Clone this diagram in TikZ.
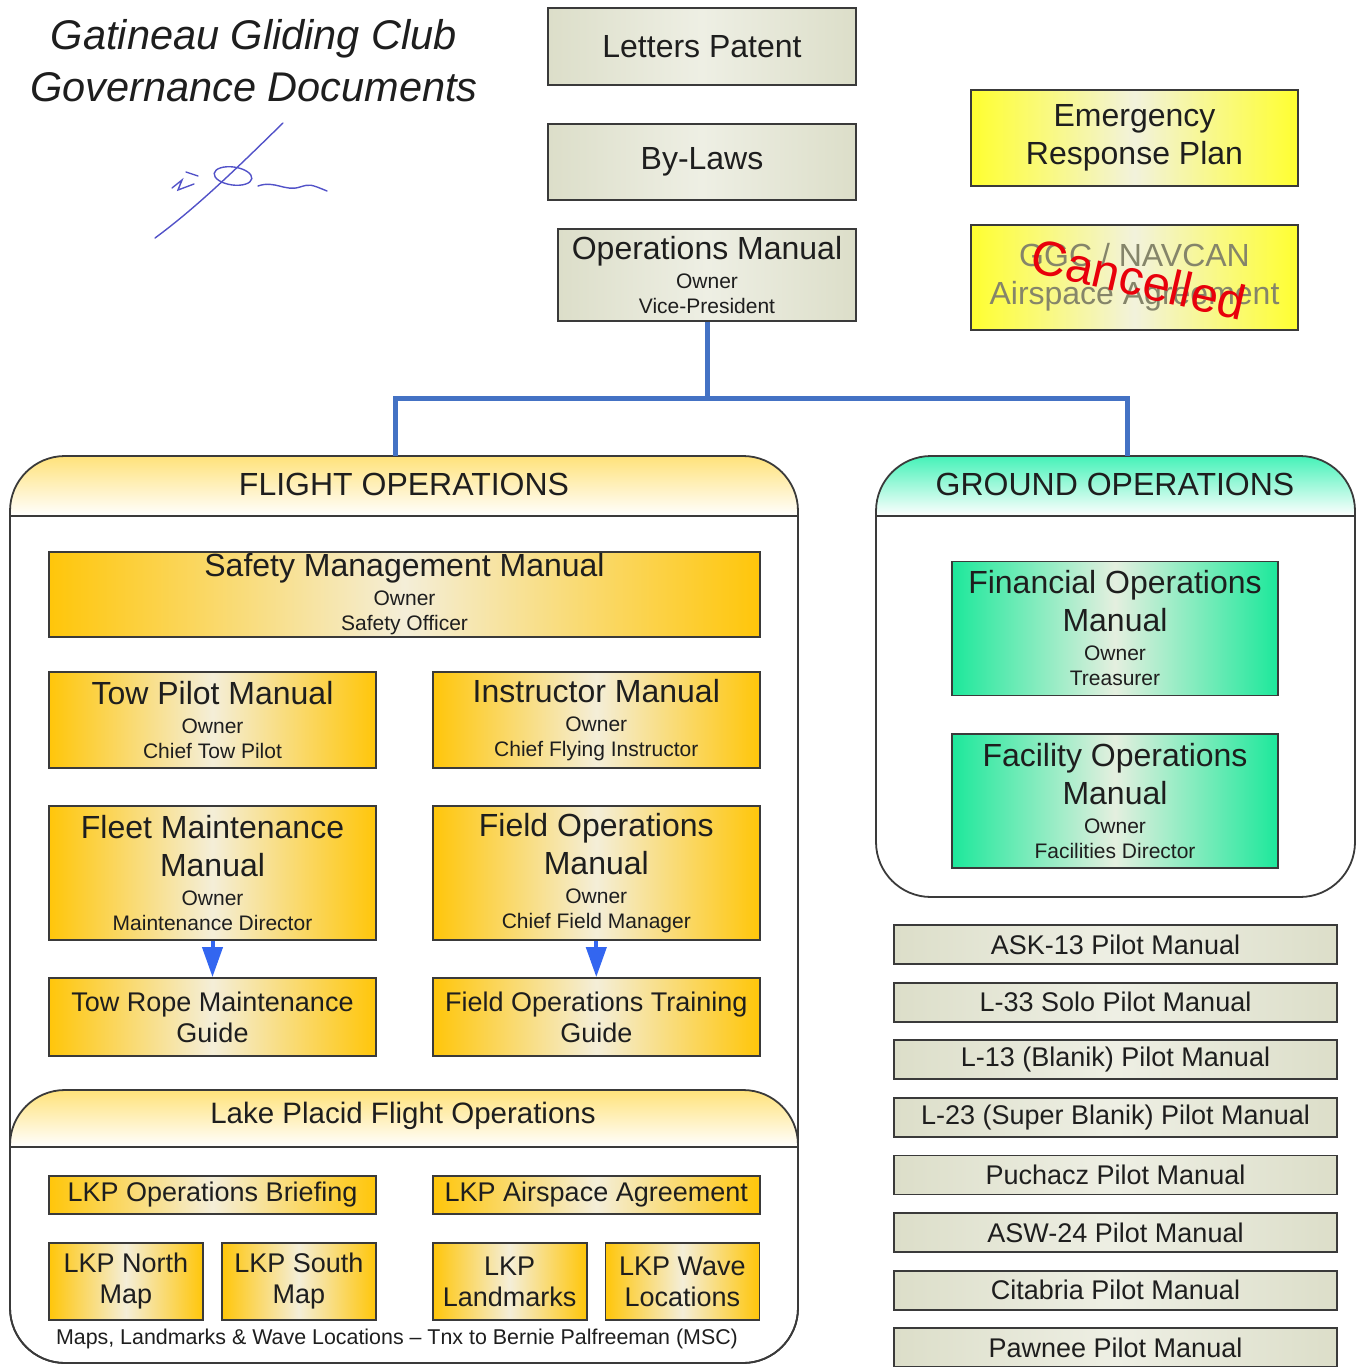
\documentclass[tikz,border=0pt]{standalone}
\usepackage{fontspec}
\setmainfont{Liberation Sans}
\usepackage{tikz}
\usetikzlibrary{arrows.meta,positioning}
\definecolor{edge}{HTML}{3A3A3A}
\definecolor{ink}{HTML}{1E1E1E}
\definecolor{grayside}{HTML}{DCDEC9}
\definecolor{graymid}{HTML}{EEEFE4}
\definecolor{goldside}{HTML}{FFC60A}
\definecolor{goldmid}{HTML}{F4EED8}
\definecolor{greenside}{HTML}{1DE89B}
\definecolor{greenmid}{HTML}{E4EFDF}
\definecolor{yellowside}{HTML}{FFFF30}
\definecolor{yellowmid}{HTML}{F2F2DC}
\definecolor{goldhead}{HTML}{FFE27A}
\definecolor{greenhead}{HTML}{45F2B8}
\definecolor{feedblue}{HTML}{4472C4}
\definecolor{arrowblue}{HTML}{3366F0}
\definecolor{voidgray}{HTML}{85856A}
\definecolor{voidred}{HTML}{E8000B}
\definecolor{sigblue}{HTML}{5252C8}
\newcommand\docfont{\fontsize{32}{38}\selectfont}
\newcommand\ownerfont{\fontsize{21}{24}\selectfont}
\newcommand\guidefont{\fontsize{27}{31}\selectfont}
\newcommand\headfont{\fontsize{32}{36}\selectfont}
\newcommand\lakefont{\fontsize{29.5}{34}\selectfont}
\newcommand\clubfont{\fontsize{41.5}{52}\selectfont\itshape}
\newcommand\notefont{\fontsize{21.4}{24}\selectfont}
\newcommand\cancelfont{\fontsize{49}{50}\selectfont}
\newcommand\owner[1]{\\[-9pt]{\ownerfont Owner}\\[-13pt]{\ownerfont #1}}

\begin{document}
\begin{tikzpicture}[
    x=1pt, y=-1pt,
    doc/.style={draw=edge, line width=1.8pt, align=center, inner sep=1pt, text=ink},
    graydoc/.style={doc, left color=grayside, right color=grayside, middle color=graymid, font=\docfont},
    golddoc/.style={doc, left color=goldside, right color=goldside, middle color=goldmid, font=\docfont},
    greendoc/.style={doc, left color=greenside, right color=greenside, middle color=greenmid, font=\docfont,
      minimum width=326pt, minimum height=134pt},
    yellowdoc/.style={doc, left color=yellowside, right color=yellowside, middle color=yellowmid, font=\docfont,
      minimum width=327pt},
    halfdoc/.style={golddoc, minimum width=327pt},
    guidedoc/.style={golddoc, font=\guidefont},
    mapdoc/.style={guidedoc, minimum width=154pt, minimum height=77pt},
    pilotdoc/.style={graydoc, font=\guidefont, minimum width=443pt, minimum height=39pt},
    section/.style={draw=edge, line width=1.8pt, rounded corners=55pt, outer sep=0pt},
    headline/.style={draw=edge, line width=1.8pt},
    feed/.style={draw=feedblue, line width=5pt},
    subarrow/.style={-{Triangle[width=20pt,length=30pt]}, draw=arrowblue, fill=arrowblue, line width=4pt}
  ]
  \useasboundingbox (0,0) rectangle (1361,1367);

  % title and signature
  \node[font=\clubfont, align=center, text=ink] (title) at (254,61) {Gatineau Gliding Club\\Governance Documents};
  \begin{scope}[sigblue, line width=1.4pt, line cap=round]
    \draw (155,238) .. controls (200,205) and (245,160) .. (283,123);
    \draw (172,188) -- (182,180) -- (178,190) -- (194,184);
    \draw (186,172) -- (198,176);
    \draw[rotate around={-8:(233,176)}] (233,176) ellipse (19pt and 9pt);
    \draw (258,186) .. controls (275,180) and (285,192) .. (300,187) .. controls (310,184) .. (327,191);
  \end{scope}

  % top level documents
  \node[graydoc, minimum width=308pt, minimum height=77pt] (patent) at (702,46.5) {Letters Patent};
  \node[graydoc, minimum width=308pt, minimum height=76pt] (bylaws) at (702,162) {By-Laws};
  \node[graydoc, minimum width=298pt, minimum height=92pt] (ops) at (707,275) {Operations Manual\owner{Vice-President}};
  \node[yellowdoc, minimum height=96pt] (erp) at (1134.5,138) {Emergency\\Response Plan};
  \node[yellowdoc, minimum height=105pt, text=voidgray] (navcan) at (1134.5,277.5) {GGC / NAVCAN\\Airspace Agreement};
  \node[font=\cancelfont, text=voidred, rotate=-13] (void) at (1139,279) {Cancelled};

  % section headers
  \begin{scope}
    \clip[rounded corners=55pt] (10,456) rectangle (798,1363);
    \shade[top color=goldhead, bottom color=white] (10,456) rectangle (798,516);
  \end{scope}
  \begin{scope}
    \clip[rounded corners=55pt] (10,1090) rectangle (798,1363);
    \shade[top color=goldhead, bottom color=white] (10,1090) rectangle (798,1147);
  \end{scope}
  \begin{scope}
    \clip[rounded corners=55pt] (876,456) rectangle (1355,897);
    \shade[top color=greenhead, bottom color=white] (876,456) rectangle (1355,516);
  \end{scope}

  % sections
  \node[section, minimum width=788pt, minimum height=907pt] (flight) at (404,909.5) {};
  \node[section, minimum width=788pt, minimum height=273pt] (lake) at (404,1226.5) {};
  \node[section, minimum width=479pt, minimum height=441pt] (ground) at (1115.5,676.5) {};
  \draw[headline] ([yshift=-60pt]flight.north west) -- ([yshift=-60pt]flight.north east);
  \draw[headline] ([yshift=-57pt]lake.north west) -- ([yshift=-57pt]lake.north east);
  \draw[headline] ([yshift=-60pt]ground.north west) -- ([yshift=-60pt]ground.north east);
  \node[font=\headfont, text=ink] (flighthead) at (404,484) {FLIGHT OPERATIONS};
  \node[font=\lakefont, text=ink] (lakehead) at (403,1116) {Lake Placid Flight Operations};
  \node[font=\headfont, text=ink] (groundhead) at (1115,484) {GROUND OPERATIONS};

  \coordinate (bus) at (707,398);
  \draw[feed] (ops.south) -- (bus);
  \draw[feed] (bus) -| ([xshift=-9pt]flight.north);
  \draw[feed] (bus) -| ([xshift=11.5pt]ground.north);

  % flight operations
  \node[golddoc, minimum width=711pt, minimum height=85pt] (safety) at (404.5,594.5) {Safety Management Manual\owner{Safety Officer}};
  \node[halfdoc, minimum height=96pt] (tow) at (212.5,720) {Tow Pilot Manual\owner{Chief Tow Pilot}};
  \node[halfdoc, minimum height=96pt, right=55pt of tow] (instr) {Instructor Manual\owner{Chief Flying Instructor}};
  \node[halfdoc, minimum height=134pt] (fleet) at (212.5,873) {Fleet Maintenance\\Manual\owner{Maintenance Director}};
  \node[halfdoc, minimum height=134pt, right=55pt of fleet] (field) {Field Operations\\Manual\owner{Chief Field Manager}};
  \node[guidedoc, minimum width=327pt, minimum height=78pt] (rope) at (212.5,1017) {Tow Rope Maintenance\\Guide};
  \node[guidedoc, minimum width=327pt, minimum height=78pt, right=55pt of rope] (training) {Field Operations Training\\Guide};
  \draw[subarrow] (fleet.south) -- (rope.north);
  \draw[subarrow] (field.south) -- (training.north);

  % lake placid
  \node[guidedoc, minimum width=327pt, minimum height=38pt] (brief) at (212.5,1195) {LKP Operations Briefing};
  \node[guidedoc, minimum width=327pt, minimum height=38pt, right=55pt of brief] (airspace) {LKP Airspace Agreement};
  \node[mapdoc] (north) at (126,1281.5) {LKP North\\Map};
  \node[mapdoc, right=17pt of north] (south) {LKP South\\Map};
  \node[mapdoc, right=55pt of south] (marks) {LKP\\Landmarks};
  \node[mapdoc, right=17pt of marks] (wave) {LKP Wave\\Locations};
  \node[font=\notefont, text=ink] (thanks) at (397,1339) {Maps, Landmarks \& Wave Locations – Tnx to Bernie Palfreeman (MSC)};

  % ground operations
  \node[greendoc] (finance) at (1115,628.5) {Financial Operations\\Manual\owner{Treasurer}};
  \node[greendoc] (facility) at (1115,801) {Facility Operations\\Manual\owner{Facilities Director}};

  % pilot manuals
  \node[pilotdoc] (ask) at (1115.5,944.5) {ASK-13 Pilot Manual};
  \node[pilotdoc, below=16.8pt of ask] (solo) {L-33 Solo Pilot Manual};
  \node[pilotdoc, below=16.8pt of solo] (blanik) {L-13 (Blanik) Pilot Manual};
  \node[pilotdoc, below=16.8pt of blanik] (super) {L-23 (Super Blanik) Pilot Manual};
  \node[pilotdoc, below=16.8pt of super] (puchacz) {Puchacz Pilot Manual};
  \node[pilotdoc, below=16.8pt of puchacz] (asw) {ASW-24 Pilot Manual};
  \node[pilotdoc, below=16.8pt of asw] (citabria) {Citabria Pilot Manual};
  \node[pilotdoc, below=16.8pt of citabria] (pawnee) {Pawnee Pilot Manual};
\end{tikzpicture}
\end{document}
